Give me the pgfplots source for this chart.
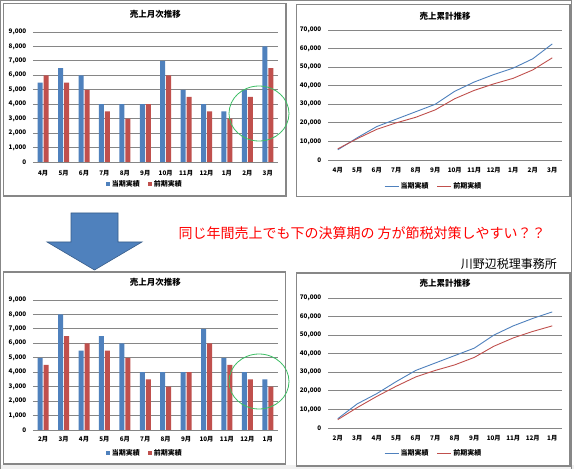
\documentclass[border=0pt]{standalone}
\usepackage{fontspec}
\setmainfont{Noto Sans CJK JP}
\usepackage{pgfplots}
\pgfplotsset{compat=1.18}
\definecolor{cblue}{HTML}{4F81BD}
\definecolor{cred}{HTML}{C0504D}
\definecolor{gridc}{HTML}{868686}
\definecolor{boxc}{HTML}{878787}
\definecolor{cgreen}{RGB}{60,190,100}
\definecolor{arrowedge}{HTML}{385D8A}
\pgfplotsset{
  base/.style={
    scale only axis, anchor=south west, clip=false,
    xmin=-0.5, xmax=11.5, xtick={0,...,11}, ymin=0,
    axis line style={draw=none}, major tick length=0pt,
    ymajorgrids, grid style={line width=0.9pt, color=gridc},
    /pgf/number format/assume math mode=true,
    /pgf/number format/fixed,
    /pgf/number format/1000 sep={,},
    scaled y ticks=false,
    tick label style={font=\fontsize{6.3}{7}\selectfont\bfseries},
    y tick label style={anchor=east, inner sep=0pt, xshift=-6.5pt},
    x tick label style={anchor=center, inner sep=0pt},
    title style={font=\fontsize{8.5}{9}\selectfont\bfseries, anchor=center, at={(0.5,1)}},
    legend style={draw=none, fill=none, anchor=center, legend columns=2,
      font=\fontsize{7}{8}\selectfont\bfseries, inner sep=0pt,
      /tikz/every even column/.append style={column sep=7pt},
      nodes={inner sep=1.5pt}},
  },
  barchart/.style={base, width=245pt, height=130pt, ymax=9000, ytick={0,1000,...,9000}},
  linechart/.style={base, width=234pt, height=130pt, ymax=70000, ytick={0,10000,...,70000}},
}
\begin{document}
\begin{tikzpicture}[x=1pt,y=1pt]
\path[use as bounding box] (0,0) rectangle (574,469);
\fill[white] (0,0) rectangle (574,469);
\fill[black!6] (0,0) rectangle (574,3.5);
% outer frame
\draw[boxc, line width=1pt] (0.5,-2) -- (0.5,468.5) -- (571.5,468.5) -- (571.5,-2);
% chart boxes
\draw[boxc, line width=1.2pt] (3.5,465.5) rectangle (286,273);
\draw[boxc, line width=1.2pt] (296.5,464.3) rectangle (570,272.5);
\draw[boxc, line width=1.2pt] (3.5,197) rectangle (285.5,5);
\draw[boxc, line width=1.2pt] (296.5,196) rectangle (570,3);

% top-left bar chart
\begin{axis}[barchart, at={(33pt,307pt)},
  title={売上月次推移}, title style={yshift=12pt},
  xticklabels={4月,5月,6月,7月,8月,9月,10月,11月,12月,1月,2月,3月},
  x tick label style={yshift=-11pt},
  legend style={at={(0.457,-0.169)}}]
\addplot[ybar, fill=cblue, draw=none, bar width=5pt, bar shift=-3pt,
  legend image code/.code={\fill[cblue] (0pt,-2pt) rectangle (4pt,2pt);}]
  coordinates {(0,5500) (1,6500) (2,6000) (3,4000) (4,4000) (5,4000) (6,7000) (7,5000) (8,4000) (9,3500) (10,5000) (11,8000)};
\addplot[ybar, fill=cred, draw=none, bar width=5pt, bar shift=3pt,
  legend image code/.code={\fill[cred] (0pt,-2pt) rectangle (4pt,2pt);}]
  coordinates {(0,6000) (1,5500) (2,5000) (3,3500) (4,3000) (5,4000) (6,6000) (7,4500) (8,3500) (9,3000) (10,4500) (11,6500)};
\legend{当期実績,前期実績}
\end{axis}

% top-right cumulative line chart
\begin{axis}[linechart, at={(328pt,309pt)},
  title={売上累計推移}, title style={yshift=8pt},
  xticklabels={4月,5月,6月,7月,8月,9月,10月,11月,12月,1月,2月,3月},
  x tick label style={yshift=-10pt},
  legend style={at={(0.451,-0.2)}}]
\addplot[cblue, line width=0.9pt, mark=none,
  legend image code/.code={\draw[cblue, line width=0.9pt] (0pt,0pt) -- (14pt,0pt);}]
  coordinates {(0,5500) (1,12000) (2,18000) (3,22000) (4,26000) (5,30000) (6,37000) (7,42000) (8,46000) (9,49500) (10,54500) (11,62500)};
\addplot[cred, line width=0.9pt, mark=none,
  legend image code/.code={\draw[cred, line width=0.9pt] (0pt,0pt) -- (14pt,0pt);}]
  coordinates {(0,6000) (1,11500) (2,16500) (3,20000) (4,23000) (5,27000) (6,33000) (7,37500) (8,41000) (9,44000) (10,48500) (11,55000)};
\legend{当期実績,前期実績}
\end{axis}

% bottom-left bar chart
\begin{axis}[barchart, at={(33pt,39pt)},
  title={売上月次推移}, title style={yshift=12pt},
  xticklabels={2月,3月,4月,5月,6月,7月,8月,9月,10月,11月,12月,1月},
  x tick label style={yshift=-9.5pt},
  legend style={at={(0.457,-0.177)}}]
\addplot[ybar, fill=cblue, draw=none, bar width=5pt, bar shift=-3pt,
  legend image code/.code={\fill[cblue] (0pt,-2pt) rectangle (4pt,2pt);}]
  coordinates {(0,5000) (1,8000) (2,5500) (3,6500) (4,6000) (5,4000) (6,4000) (7,4000) (8,7000) (9,5000) (10,4000) (11,3500)};
\addplot[ybar, fill=cred, draw=none, bar width=5pt, bar shift=3pt,
  legend image code/.code={\fill[cred] (0pt,-2pt) rectangle (4pt,2pt);}]
  coordinates {(0,4500) (1,6500) (2,6000) (3,5500) (4,5000) (5,3500) (6,3000) (7,4000) (8,6000) (9,4500) (10,3500) (11,3000)};
\legend{当期実績,前期実績}
\end{axis}

% bottom-right cumulative line chart
\begin{axis}[linechart, at={(328pt,41pt)},
  title={売上累計推移}, title style={yshift=9pt},
  xticklabels={2月,3月,4月,5月,6月,7月,8月,9月,10月,11月,12月,1月},
  x tick label style={yshift=-10pt},
  legend style={at={(0.451,-0.192)}}]
\addplot[cblue, line width=0.9pt, mark=none,
  legend image code/.code={\draw[cblue, line width=0.9pt] (0pt,0pt) -- (14pt,0pt);}]
  coordinates {(0,5000) (1,13000) (2,18500) (3,25000) (4,31000) (5,35000) (6,39000) (7,43000) (8,50000) (9,55000) (10,59000) (11,62500)};
\addplot[cred, line width=0.9pt, mark=none,
  legend image code/.code={\draw[cred, line width=0.9pt] (0pt,0pt) -- (14pt,0pt);}]
  coordinates {(0,4500) (1,11000) (2,17000) (3,22500) (4,27500) (5,31000) (6,34000) (7,38000) (8,44000) (9,48500) (10,52000) (11,55000)};
\legend{当期実績,前期実績}
\end{axis}

% green circles
\draw[cgreen, line width=0.8pt] (259,355.5) ellipse [x radius=30, y radius=27.5];
\draw[cgreen, line width=0.8pt] (259,87.5) ellipse [x radius=30, y radius=27.5];

% arrow
\draw[fill=cblue, draw=arrowedge, line width=0.6pt] (71,256) -- (118,256) -- (118,227) -- (142,227) -- (94.5,199) -- (47,227) -- (71,227) -- cycle;

% texts
\node[text=red, font=\fontsize{14}{14}\selectfont, inner sep=0pt] at (362,236) {同じ年間売上でも下の決算期の 方が節税対策しやすい？？};
\node[anchor=east, font=\fontsize{12}{12}\selectfont, inner sep=0pt] at (557,205) {川野辺税理事務所};
\end{tikzpicture}
\end{document}
